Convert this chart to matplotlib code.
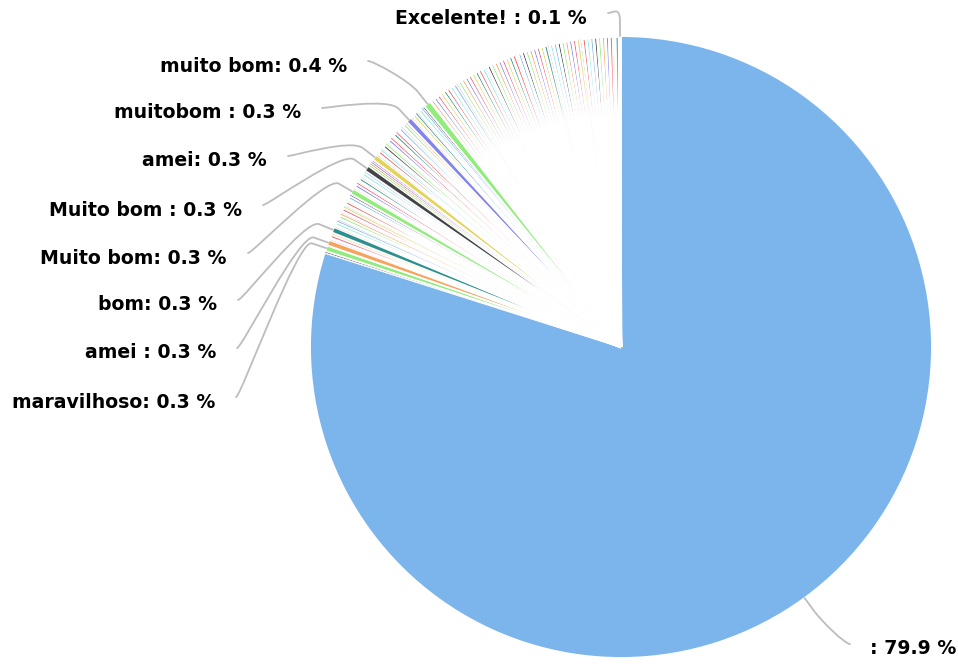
import numpy as np
import matplotlib

matplotlib.use("Agg")
import matplotlib.pyplot as plt
from matplotlib.path import Path
from matplotlib.patches import PathPatch

plt.rcParams.update({"font.family": "DejaVu Sans", "font.size": 13.6})

# Contagem de respostas por fatia, no sentido horário a partir do topo
contagens = [
    799,  # resposta vazia
    1, 3, 3,
    1, 2, 1,
    3,
    1, 2, 1, 1, 2, 1, 1, 2, 1, 1, 2, 1, 2, 1,
    3,
    1, 2, 1, 1, 2, 1, 2, 1,
    3,
    1, 1, 1, 1,
    3,
    1, 2, 1, 1, 2, 1, 1, 2, 1, 1, 2, 1, 1, 2, 1, 2, 1,
    3,
    1, 2, 1, 1, 2, 1, 1,
    4,
    2, 2, 2, 2, 2, 2, 2, 2, 1,
    2, 2, 2, 2, 2, 2, 2, 2, 1,
    2, 2, 2, 2, 2, 2, 2, 2, 1,
    2, 2, 2, 2, 2, 2, 2, 2, 1,
    2, 2, 2, 2, 2, 2, 2, 2, 1,
    2, 2, 2, 2, 2, 2, 2, 2, 1,
    2,
    1,
]

# Fatias com rótulo visível (índice -> resposta)
rotulos = {
    0: "",
    2: "maravilhoso",
    3: "amei ",
    7: "bom",
    22: "Muito bom",
    31: "Muito bom ",
    36: "amei",
    54: "muitobom ",
    62: "muito bom",
    118: "Excelente! ",
}

paleta = ["#7cb5ec", "#434348", "#90ed7d", "#f7a35c", "#8085e9",
          "#f15c80", "#e4d354", "#2b908f", "#f45b5b", "#91e8e1"]
cores = [paleta[i % len(paleta)] for i in range(len(contagens))]

# Layout (pixels da figura)
W_PX, H_PX = 958, 664
CX, CY, R_PX = 621, 347, 311
pos_rotulos = {
    0: (870, 649, "left"),
    2: (215, 402, "right"),
    3: (216, 353, "right"),
    7: (217, 305, "right"),
    22: (227, 258, "right"),
    31: (242, 210, "right"),
    36: (267, 161, "right"),
    54: (301, 113, "right"),
    62: (347, 66, "right"),
    118: (587, 18, "right"),
}


def px2d(x, y):
    return np.array([(x - CX) / R_PX, (CY - y) / R_PX])


fig = plt.figure(figsize=(W_PX / 100, H_PX / 100), dpi=100)
ax = fig.add_axes([0, 0, 1, 1])

wedges, _ = ax.pie(
    contagens,
    colors=cores,
    startangle=90,
    counterclock=False,
    wedgeprops=dict(edgecolor="white", joinstyle="bevel"),
)
ax.set_xlim(-CX / R_PX, (W_PX - CX) / R_PX)
ax.set_ylim(-(H_PX - CY) / R_PX, CY / R_PX)
ax.set_aspect("equal")
ax.axis("off")

# borda branca: nas fatias minúsculas sobra só um fio de cor na borda
pt_px = 72 / fig.dpi
for i, w in enumerate(wedges):
    largura = np.deg2rad(w.theta2 - w.theta1) * R_PX
    if i in rotulos:
        lw = 1.9
    else:
        lw = max(largura - 1.0, 0.5)
    w.set_linewidth(lw * pt_px)

total = sum(contagens)
for i, nome in rotulos.items():
    w = wedges[i]
    ang = np.deg2rad((w.theta1 + w.theta2) / 2)
    u = np.array([np.cos(ang), np.sin(ang)])
    borda = u
    quebra = u * (1 + 15 / R_PX)
    ctrl2 = u * (1 + 30 / R_PX)

    x, y, ha = pos_rotulos[i]
    pct = 100 * contagens[i] / total
    ax.text(*px2d(x, y), f"{nome}: {pct:.1f} %", ha=ha, va="center",
            fontweight="bold", color="black")

    if ha == "right":
        ancora = px2d(x + 21, y - 5)
        ctrl1 = ancora + np.array([5, 0]) / R_PX
    else:
        ancora = px2d(x - 20, y - 5)
        ctrl1 = ancora + np.array([-5, 0]) / R_PX
    caminho = Path([ancora, ctrl1, ctrl2, quebra, borda],
                   [Path.MOVETO, Path.CURVE4, Path.CURVE4, Path.CURVE4, Path.LINETO])
    ax.add_patch(PathPatch(caminho, fill=False, edgecolor="#bdbdbd", lw=1.3,
                           capstyle="round"))

fig.savefig("out.png", dpi=100)
